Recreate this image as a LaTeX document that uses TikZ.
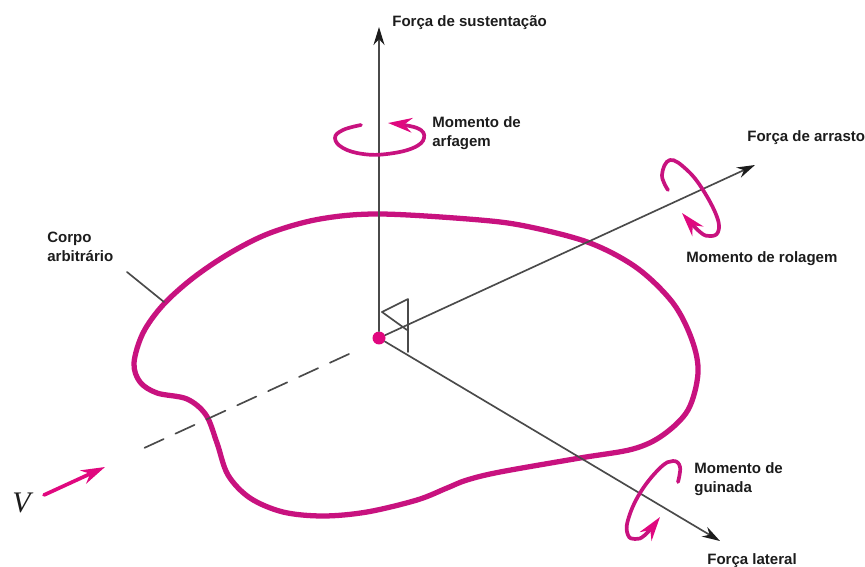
\documentclass[tikz,border=0pt]{standalone}
\usepackage{fontspec}
\setmainfont{Liberation Sans}
\newfontfamily\fmserif{Liberation Serif}
\usetikzlibrary{arrows.meta,positioning}
\definecolor{fmBody}{HTML}{C8127F}
\definecolor{fmPink}{HTML}{E0087F}
\definecolor{fmInk}{HTML}{1C1C1C}
\definecolor{fmAxis}{HTML}{4A4A4A}
\tikzset{
  fm diagram/.style={x=0.02cm, y=-0.02cm, font=\fontsize{8.55pt}{10.6pt}\selectfont\bfseries,
    text=fmInk, line cap=round, line join=round},
  fm label/.style={anchor=west, align=left, inner sep=0pt},
  fm axis/.style={-{Stealth[length=3.6mm,width=2.2mm,color=fmInk]}, draw=fmAxis, line width=0.95pt},
  fm thin/.style={draw=fmAxis, line width=0.95pt},
  fm dashed axis/.style={fm thin, dash pattern=on 0.42cm off 0.26cm},
  fm body/.style={draw=fmBody, line width=3pt},
  fm moment/.style={-{Stealth[length=4.8mm,width=2.9mm,color=fmPink]}, draw=fmBody, line width=2.1pt},
  fm origin/.style={circle, fill=fmPink, inner sep=0pt, minimum size=0.26cm}
}
\begin{document}
\begin{tikzpicture}[fm diagram]
\useasboundingbox (0,0) rectangle (865,567);
% body outline
\draw[fm body] plot[smooth cycle, tension=0.55] coordinates {
  (163,305) (193,278) (230,253) (270,233) (320,219) (380,214) (480,220) (530,227)
  (590,243) (637,268) (673,303) (692,340) (698,373) (688,410) (663,435) (633,449)
  (580,458) (500,472) (467,480) (447,488) (417,500) (367,512) (323,516) (283,512)
  (250,498) (228,475) (217,443) (206,415) (187,399) (157,393) (140,382) (134,363) (143,333)};
% origin and axes
\node[fm origin] (origin) at (379,338) {};
\coordinate (liftEnd) at (379,27);
\coordinate (dragEnd) at (755,165);
\coordinate (sideEnd) at (720,541);
\coordinate (windStart) at (349,354);
\coordinate (windEnd) at (142,449);
\draw[fm axis, line width=1.2pt] (origin) -- (liftEnd);
\draw[fm axis] (origin) -- (dragEnd);
\draw[fm axis] (origin) -- (sideEnd);
\draw[fm dashed axis] (windStart) -- (windEnd);
% right angle marks
\coordinate (markA) at (382,312);
\coordinate (markB) at (408,299);
\coordinate (markC) at (408,352);
\coordinate (markD) at (407,330);
\draw[fm thin] (markA) -- (markB) -- (markC);
\draw[fm thin] (markA) -- (markD);
% moments
\draw[fm moment] plot[smooth, tension=0.7] coordinates {
  (361,125) (343,130) (335,138) (343,148) (363,154) (387,154) (413,148) (424,138) (417,128) (388,123)};
\draw[fm moment] plot[smooth, tension=0.7] coordinates {
  (668,190) (662,175) (670,160) (687,170) (703,190) (717,217) (718,232) (710,236) (700,232) (682,213)};
\draw[fm moment] plot[smooth, tension=0.7] coordinates {
  (678,482) (680,467) (673,461) (660,468) (640,493) (628,520) (628,535) (635,539) (645,535) (660,517)};
\coordinate (vStart) at (44,495);
\coordinate (vEnd) at (105,467);
\draw[fm moment, draw=fmPink] (vStart) -- (vEnd);
% labels
\node[fm label] (lift) at (392,23) {Força de sustentação};
\node[fm label] (pitch) at (432,133) {Momento de\\arfagem};
\node[fm label] (drag) at (747,138) {Força de arrasto};
\node[fm label] (roll) at (686,259) {Momento de rolagem};
\node[fm label] (yaw) at (694,479) {Momento de\\guinada};
\node[fm label] (side) at (707,561) {Força lateral};
\node[fm label] (bodyname) at (47,247) {Corpo\\arbitrário};
\node[fm label, font=\fmserif\itshape\fontsize{17pt}{17pt}\selectfont] (wind) at (12,503) {V};
% leader
\coordinate (leaderStart) at (127,272);
\coordinate (leaderEnd) at (164,302);
\draw[fm thin] (leaderStart) -- (leaderEnd);
\end{tikzpicture}
\end{document}
